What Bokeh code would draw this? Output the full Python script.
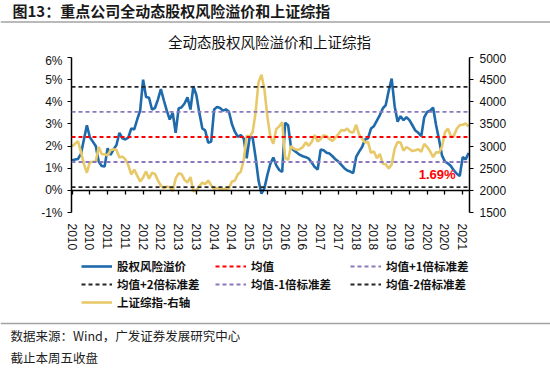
from bokeh.plotting import figure
from bokeh.models import (Range1d, LinearAxis, FixedTicker, Label, Legend, LegendItem,
                          ColumnDataSource, PrintfTickFormatter, Span)
from bokeh.embed import file_html
from bokeh.resources import INLINE

# ---------------- data ----------------
months = list(range(135))  # monthly points, 2010-01 .. 2021-03
tick_positions = list(range(0, 133, 6))
tick_labels = ["2010", "2010", "2011", "2011", "2012", "2012", "2013", "2013",
               "2014", "2014", "2015", "2015", "2016", "2016", "2017", "2017",
               "2018", "2018", "2019", "2019", "2020", "2020", "2021"]

erp = [1.35, 1.39, 1.42, 1.65, 2.3, 2.94, 2.4, 2.2, 2.0, 1.3, 1.1, 1.08,
       1.9, 1.6, 1.85, 2.05, 2.6, 2.35, 2.3, 2.38, 2.8, 2.75, 3.2, 3.6,
       5.0, 4.22, 4.18, 3.65, 3.72, 4.1, 4.57, 4.07, 3.6, 3.2, 3.5, 2.6,
       3.7, 3.75, 3.92, 4.2, 3.65, 4.7, 4.3, 3.5, 2.8, 2.7, 2.15, 2.2,
       3.65, 3.77, 3.72, 3.6, 3.66, 3.55, 3.0, 2.65, 2.42, 2.5, 2.35, 1.45,
       2.4, 2.4, 1.5, 0.45, -0.15, 0.1, 0.7, 1.2, 1.48, 1.13, 0.92, 0.83,
       3.05, 2.94, 1.92, 1.8, 1.7, 1.6, 1.54, 1.5, 1.43, 1.25, 1.05, 0.94,
       1.84, 1.81, 1.7, 1.66, 1.54, 1.4, 1.3, 1.15, 1.0, 0.9, 0.85, 0.78,
       1.51, 1.75, 1.96, 2.3, 2.35, 2.79, 2.9, 3.15, 3.4, 3.7, 3.85, 4.5,
       5.05, 3.8, 3.1, 3.35, 3.17, 3.3, 3.17, 2.94, 2.7, 2.6, 2.45, 3.3,
       3.54, 3.6, 3.74, 2.95, 2.3, 1.58, 1.3, 1.22, 1.1, 0.9, 0.75, 0.65,
       1.5, 1.4, 1.69]

sse = [2989, 3052, 3109, 2871, 2592, 2398, 2638, 2639, 2656, 2979, 2820, 2808,
       2791, 2905, 2928, 2912, 2743, 2762, 2702, 2567, 2359, 2468, 2333, 2199,
       2293, 2428, 2263, 2396, 2372, 2225, 2104, 2048, 2086, 2069, 1980, 2269,
       2385, 2366, 2237, 2178, 2301, 1979, 1994, 2098, 2175, 2142, 2221, 2116,
       2033, 2056, 2033, 2026, 2039, 2048, 2202, 2217, 2364, 2420, 2683, 3235,
       3210, 3310, 3748, 4442, 4612, 4277, 3664, 3206, 3053, 3383, 3445, 3539,
       2738, 2688, 3004, 2938, 2917, 2930, 2979, 3085, 3005, 3100, 3250, 3104,
       3159, 3242, 3223, 3155, 3117, 3192, 3273, 3361, 3349, 3393, 3317, 3307,
       3481, 3259, 3169, 3082, 3095, 2847, 2876, 2725, 2821, 2603, 2588, 2494,
       2585, 2941, 3091, 3078, 2899, 2979, 2933, 2886, 2905, 2929, 2872, 3050,
       2977, 2880, 2750, 2860, 2852, 2985, 3310, 3396, 3218, 3225, 3392, 3473,
       3483, 3509, 3442]

erp_mean = 2.41
erp_std = 1.13
left_ticks = [-1, 0, 1, 2, 3, 4, 5, 6]
right_ticks = [1500, 2000, 2500, 3000, 3500, 4000, 4500, 5000]
latest_text = "1.69%"

header_text = "图13：重点公司全动态股权风险溢价和上证综指"
chart_title = "全动态股权风险溢价和上证综指"
source_text = "数据来源：Wind，广发证券发展研究中心"
note_text = "截止本周五收盘"

# ---------------- styles ----------------
BLUE = "#1F6AAB"
GOLD = "#E8C96A"
RED = "#FF0000"
PURPLE = "#8A78BC"
DARK = "#262626"
RULE = "#a3a3a3"
CJK = "Noto Sans CJK SC"
LAT = "Liberation Sans"
DASH = "4 3"

W = 550
H_HEAD, H_MAIN, H_FOOT = 53, 202, 113
FOOT_TOP = H_HEAD + H_MAIN


def blank(height, y_top):
    f = figure(width=W, height=height, output_backend="svg", toolbar_location=None,
               x_range=Range1d(0, W), y_range=Range1d(y_top + height, y_top),
               x_axis_type=None, y_axis_type=None, min_border=0)
    f.outline_line_color = None
    f.grid.visible = False
    f.background_fill_color = "white"
    f.border_fill_color = "white"
    return f


src = ColumnDataSource(dict(m=months, erp=erp, sse=sse))

ref_specs = [
    ("均值", erp_mean, RED),
    ("均值+1倍标准差", erp_mean + erp_std, PURPLE),
    ("均值+2倍标准差", erp_mean + 2 * erp_std, DARK),
    ("均值-1倍标准差", erp_mean - erp_std, PURPLE),
    ("均值-2倍标准差", erp_mean - 2 * erp_std, DARK),
]

# ---------------- header ----------------
head = blank(H_HEAD, 0)
head.add_layout(Label(x=12, y=9.5, text=header_text, text_baseline="middle",
                      text_font=CJK, text_font_style="bold", text_font_size="15px",
                      text_color="#1a1a1a"))
head.add_layout(Span(location=21.5, dimension="width", line_color=RULE, line_width=1.5))
head.add_layout(Label(x=269, y=40.5, text=chart_title, text_align="center",
                      text_baseline="middle", text_font=CJK, text_font_size="14.5px",
                      text_color="#111111"))

# ---------------- main chart ----------------
p = figure(width=W, height=H_MAIN, output_backend="svg", toolbar_location=None,
           x_range=Range1d(-0.2, 134.3), y_range=Range1d(-1, 6),
           min_border_left=71, min_border_right=81, min_border_top=4,
           min_border_bottom=43)
p.outline_line_color = None
p.grid.grid_line_color = None
p.background_fill_color = "white"
p.border_fill_color = "white"
p.extra_y_ranges = {"sse": Range1d(1500, 5000)}

for name, lvl, col in ref_specs:
    p.add_layout(Span(location=lvl, dimension="width", line_color=col,
                      line_width=1.8, line_dash=DASH))

p.line("m", "erp", source=src, line_color=BLUE, line_width=2.6)
p.line("m", "sse", source=src, line_color=GOLD, line_width=2.6, y_range_name="sse")

xa = p.xaxis[0]
xa.ticker = FixedTicker(ticks=tick_positions)
xa.major_label_overrides = {t: l for t, l in zip(tick_positions, tick_labels)}
xa.major_label_orientation = "vertical"
xa.axis_line_color = None
xa.major_tick_line_color = None
xa.minor_tick_line_color = None
xa.major_label_standoff = 5
xa.major_label_text_font = LAT
xa.major_label_text_font_size = "12px"
xa.major_label_text_color = "#111111"

zero_axis = LinearAxis(fixed_location=0, ticker=FixedTicker(ticks=tick_positions),
                       major_label_overrides={t: "" for t in tick_positions},
                       major_label_text_font_size="1px", major_label_standoff=0,
                       major_tick_in=0, major_tick_out=4,
                       axis_line_color="black", axis_line_width=1.5,
                       major_tick_line_color="black", major_tick_line_width=1.3,
                       minor_tick_line_color=None)
p.add_layout(zero_axis, "below")

ya = p.yaxis[0]
ya.ticker = FixedTicker(ticks=left_ticks)
ya.formatter = PrintfTickFormatter(format="%d%%")
ya.major_tick_in = 0
ya.major_tick_out = 4
ya.minor_tick_line_color = None
ya.axis_line_width = 1.5
ya.axis_line_color = "black"
ya.major_tick_line_color = "black"
ya.major_label_standoff = 5
ya.major_label_text_font = LAT
ya.major_label_text_font_size = "12px"
ya.major_label_text_color = "#111111"

ra = LinearAxis(y_range_name="sse", ticker=FixedTicker(ticks=right_ticks),
                major_tick_in=0, major_tick_out=4, minor_tick_line_color=None,
                axis_line_width=1.5, axis_line_color="black",
                major_tick_line_color="black", major_label_standoff=6,
                major_label_text_font=LAT, major_label_text_font_size="12px",
                major_label_text_color="#111111")
p.add_layout(ra, "right")

p.add_layout(Label(x=months[-1], y=erp[-1], text=latest_text, x_offset=-13,
                   y_offset=-22, text_align="right", text_baseline="middle",
                   text_color=RED, text_font=LAT, text_font_style="bold",
                   text_font_size="13px"))

# ---------------- footer (legend + source) ----------------
# legend renderers reuse the series; their values fall outside this panel's range
foot = blank(H_FOOT, FOOT_TOP)
lr = {}
lr["股权风险溢价"] = foot.line("m", "erp", source=src, line_color=BLUE, line_width=2.6)
lr["上证综指-右轴"] = foot.line("m", "erp", source=src, line_color=GOLD, line_width=2.6)
for name, lvl, col in ref_specs:
    lr[name] = foot.line(x=[months[0], months[-1]], y=[lvl, lvl], line_color=col,
                         line_width=1.8, line_dash=DASH)

legend_columns = [
    (["股权风险溢价", "均值+2倍标准差", "上证综指-右轴"], 81, 58),
    (["均值", "均值-1倍标准差"], 215, 76),
    (["均值+1倍标准差", "均值-2倍标准差"], 350, 76),
]
for names, lx, ly in legend_columns:
    leg = Legend(items=[LegendItem(label=n, renderers=[lr[n]]) for n in names],
                 location=(lx, ly), orientation="vertical",
                 glyph_width=31, glyph_height=14, label_standoff=5,
                 label_height=14, spacing=2, padding=0, margin=0,
                 border_line_color=None, background_fill_alpha=0,
                 label_text_font=CJK, label_text_font_size="11.5px",
                 label_text_font_style="bold", label_text_color="#111111")
    foot.add_layout(leg, "center")

foot.add_layout(Span(location=323, dimension="width", line_color=RULE, line_width=1.5))
foot.add_layout(Label(x=10, y=335, text=source_text, text_baseline="middle",
                      text_font=CJK, text_font_size="12.5px", text_color="#222222"))
foot.add_layout(Label(x=10, y=357, text=note_text, text_baseline="middle",
                      text_font=CJK, text_font_size="12.5px", text_color="#222222"))

# three separate roots stacked on the page (keeps each panel's own frame)
open("out.html", "w").write(file_html([head, p, foot], INLINE))
